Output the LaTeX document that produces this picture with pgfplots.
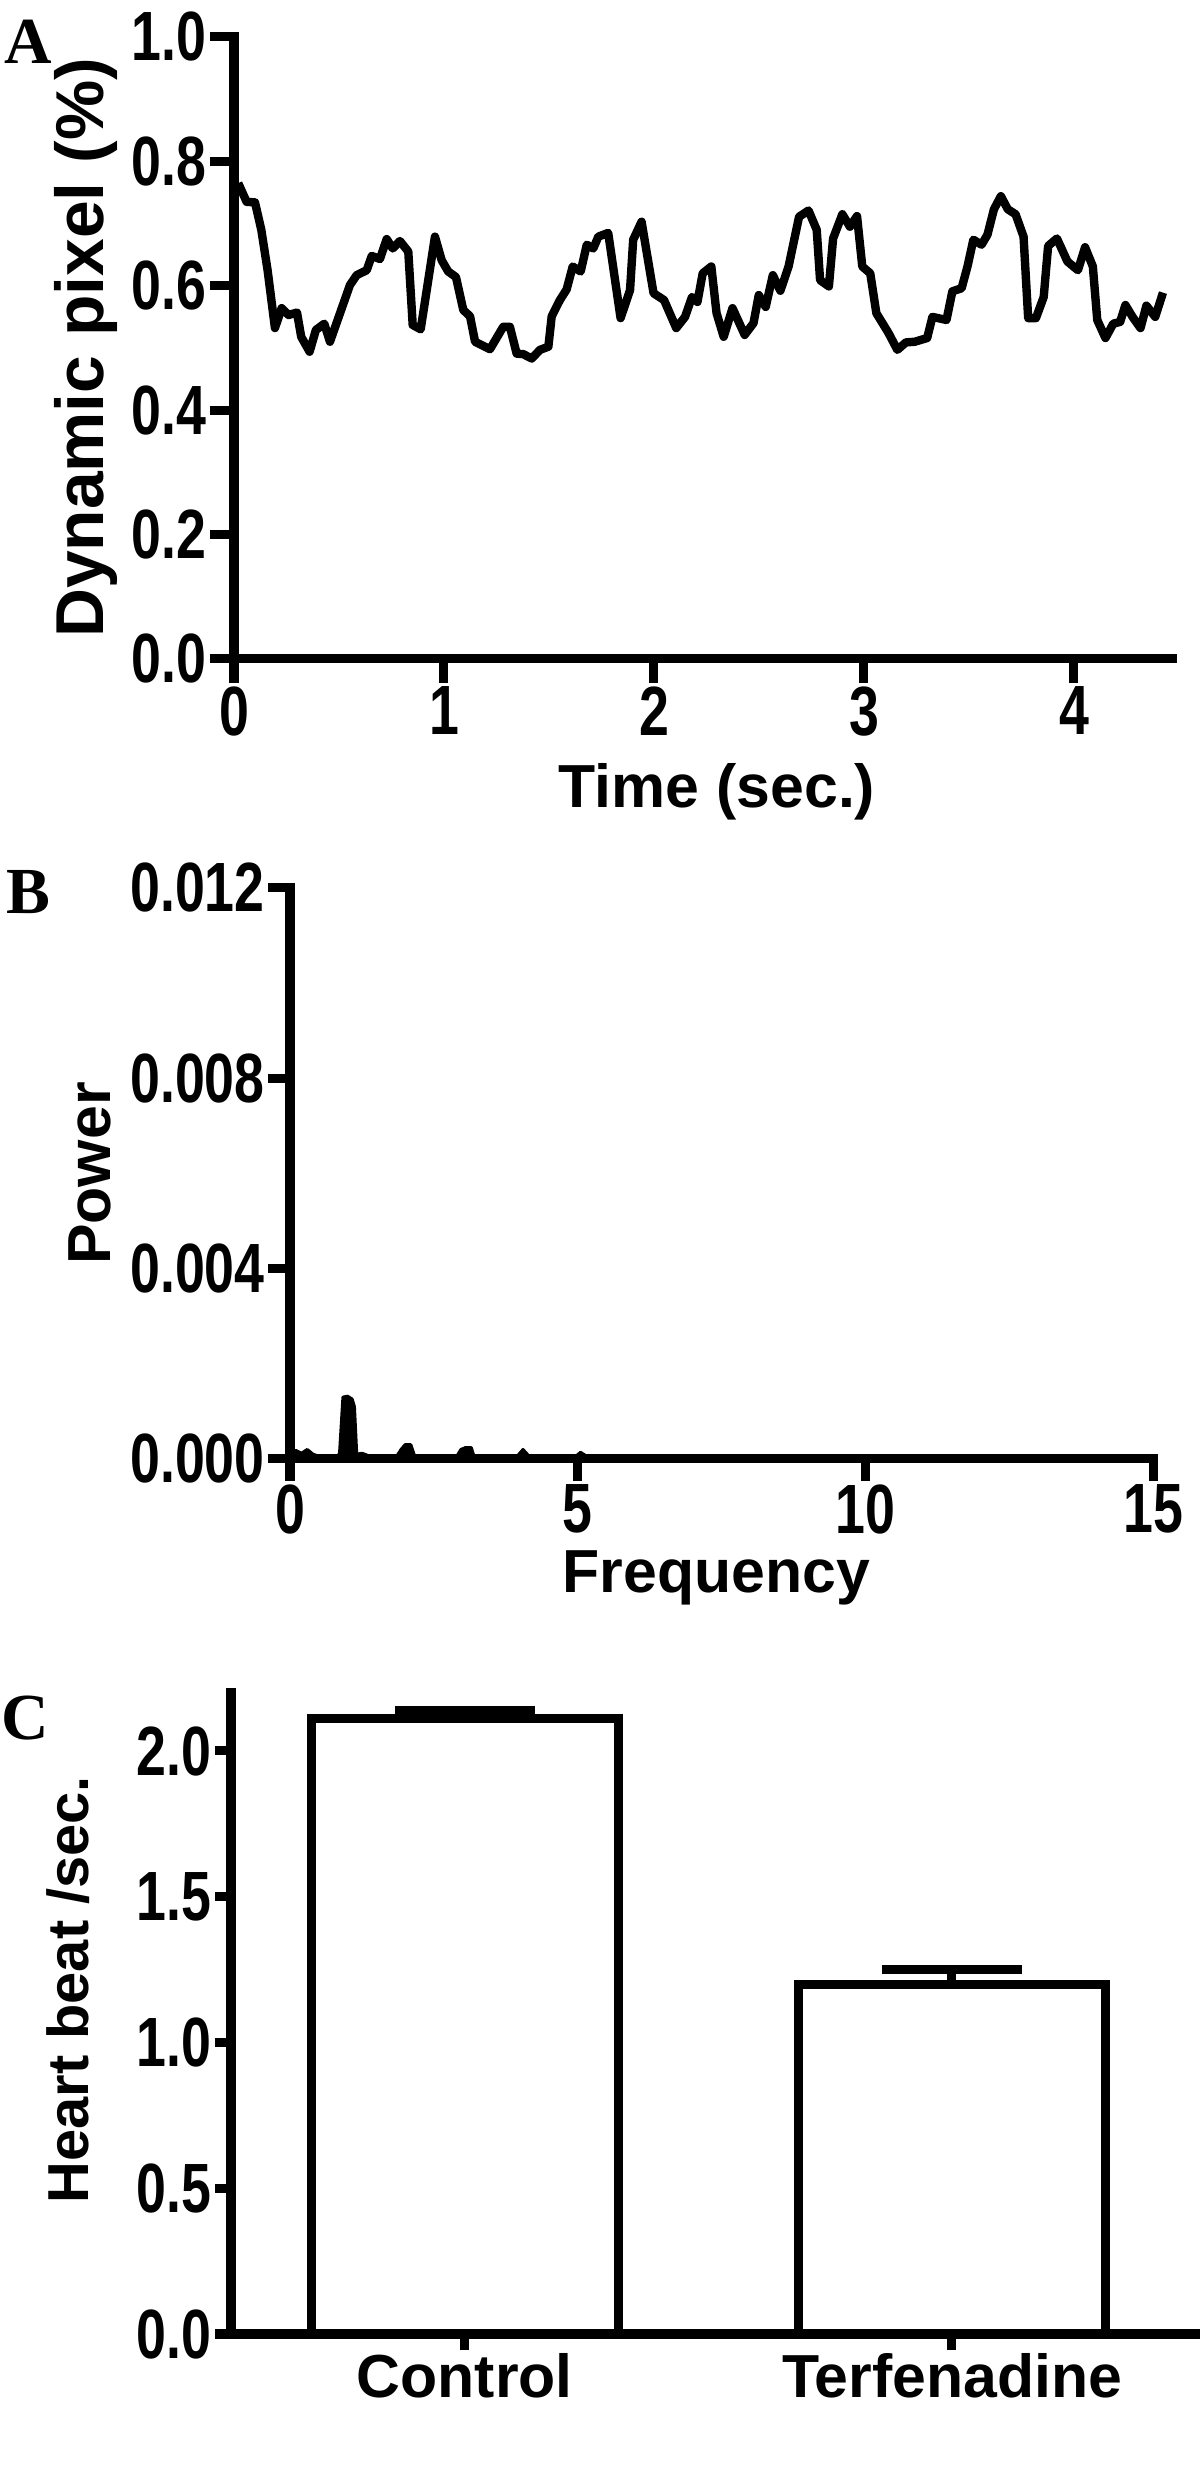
\documentclass[border=0pt]{standalone}
\usepackage{fontspec}
\setmainfont{Liberation Sans}
\newfontfamily\tickfont{Liberation Sans}[FakeStretch=0.77]
\newfontfamily\panelfont{Liberation Serif}
\usepackage{pgfplots}
\pgfplotsset{compat=1.18}

% GraphPad-like look: open left/bottom axes, thick lines, outside ticks
\pgfplotsset{
  gp/.style={
    scale only axis,
    axis lines=left,
    axis line style={-, line width=4.5bp, line cap=rect},
    tick align=outside,
    major tick length=12bp,
    minor tick num=0,
    tick style={black, line width=4.5bp},
    tick label style={font=\tickfont\bfseries\fontsize{35}{35}\selectfont, inner sep=1.5bp},
    label style={font=\bfseries\fontsize{30.5}{30.5}\selectfont},
    /pgf/number format/assume math mode=true,
    clip=false,
  }
}

\begin{document}
\begin{tikzpicture}
\useasboundingbox (0,0) rectangle (600bp,1233bp);

% ---------- A ----------
\begin{axis}[gp,
  at={(117bp,903.5bp)}, anchor=south west,
  width=469bp, height=311bp,
  xmin=0, xmax=4.467, ymin=0, ymax=1,
  xtick={0,1,2,3,4},
  ytick={0,0.2,0.4,0.6,0.8,1.0},
  yticklabel style={/pgf/number format/.cd, fixed, fixed zerofill, precision=1},
  xlabel={Time (sec.)},
  ylabel={Dynamic pixel (\%)},
  xlabel style={at={(axis description cs:0.515,-0.238)}, anchor=base},
  ylabel style={at={(axis description cs:-0.158,0.5)}, anchor=center,
                font=\bfseries\fontsize{34}{34}\selectfont},
]
\addplot[black, line width=4.2bp, line join=round] coordinates {
(0.02,0.765)(0.06,0.735)(0.10,0.734)(0.13,0.69)(0.16,0.625)(0.195,0.532)
(0.227,0.564)(0.26,0.553)(0.30,0.557)(0.32,0.518)(0.36,0.494)(0.39,0.529)
(0.43,0.539)(0.457,0.51)(0.505,0.556)(0.552,0.601)(0.584,0.617)(0.632,0.625)
(0.656,0.648)(0.695,0.643)(0.727,0.675)(0.756,0.66)(0.79,0.672)(0.83,0.655)
(0.851,0.537)(0.889,0.53)(0.957,0.679)(0.989,0.641)(1.02,0.623)(1.057,0.614)
(1.092,0.561)(1.124,0.551)(1.148,0.51)(1.219,0.498)(1.282,0.534)(1.314,0.534)
(1.346,0.491)(1.378,0.49)(1.418,0.483)(1.457,0.497)(1.497,0.502)(1.513,0.551)
(1.552,0.577)(1.584,0.594)(1.613,0.631)(1.651,0.623)(1.68,0.666)(1.711,0.66)
(1.735,0.679)(1.782,0.685)(1.841,0.548)(1.886,0.593)(1.901,0.674)(1.941,0.703)
(1.998,0.588)(2.048,0.577)(2.106,0.532)(2.148,0.550)(2.181,0.582)(2.207,0.574)
(2.232,0.620)(2.273,0.631)(2.298,0.556)(2.332,0.518)(2.374,0.564)(2.432,0.521)
(2.474,0.540)(2.499,0.585)(2.532,0.566)(2.566,0.617)(2.602,0.592)(2.641,0.631)
(2.691,0.711)(2.736,0.721)(2.775,0.690)(2.791,0.609)(2.833,0.599)(2.853,0.676)
(2.897,0.715)(2.933,0.695)(2.967,0.712)(2.992,0.631)(3.03,0.620)(3.059,0.556)
(3.117,0.524)(3.159,0.497)(3.2,0.509)(3.242,0.510)(3.301,0.516)(3.326,0.550)
(3.393,0.545)(3.421,0.591)(3.465,0.596)(3.493,0.631)(3.521,0.674)(3.56,0.666)
(3.588,0.682)(3.619,0.723)(3.652,0.744)(3.685,0.723)(3.722,0.715)(3.76,0.679)
(3.782,0.548)(3.819,0.548)(3.856,0.582)(3.877,0.664)(3.919,0.676)(3.969,0.639)
(4.019,0.625)(4.053,0.662)(4.09,0.631)(4.111,0.545)(4.15,0.516)(4.187,0.539)
(4.22,0.542)(4.245,0.569)(4.279,0.550)(4.317,0.532)(4.345,0.568)(4.387,0.550)
(4.424,0.589)
};
\end{axis}

% ---------- B ----------
\begin{axis}[gp,
  at={(145bp,503.5bp)}, anchor=south west,
  width=431.5bp, height=285.5bp,
  major tick length=11bp,
  xmin=0, xmax=15, ymin=0, ymax=0.012,
  xtick={0,5,10,15},
  ytick={0,0.004,0.008,0.012},
  scaled y ticks=false,
  yticklabel style={/pgf/number format/.cd, fixed, fixed zerofill, precision=3},
  xlabel={Frequency},
  ylabel={Power},
  xlabel style={at={(axis description cs:0.494,-0.233)}, anchor=base},
  ylabel style={at={(axis description cs:-0.232,0.5)}, anchor=center},
]
\addplot[black, fill=black, line width=1.5bp, line join=round] coordinates {
(0,0.00012)(0.1,0.00018)(0.2,0.00012)(0.3,0.0002)(0.4,0.0001)(0.5,0.00006)
(0.8,0.00006)(0.86,0.0001)(0.92,0.0013)(1.0,0.00132)(1.08,0.00126)(1.12,0.0011)
(1.16,0.0001)(1.25,0.00012)(1.3,0.0001)(1.4,0.00005)(1.85,0.00005)(1.93,0.0002)
(2.0,0.0003)(2.1,0.0003)(2.17,0.00005)(2.9,0.00006)(2.97,0.0002)(3.05,0.00024)
(3.15,0.00024)(3.2,0.00005)(3.5,0.00006)(3.6,0.00003)(3.95,0.00006)(4.05,0.0002)
(4.17,0.00004)(4.95,0.00004)(5.05,0.00014)(5.18,0.00004)(6.0,0.00002)(6.1,0.00006)
(6.2,0.00001)(15,0)
} \closedcycle;
\end{axis}

% ---------- C ----------
\begin{axis}[gp,
  at={(115.5bp,66bp)}, anchor=south west,
  width=483.5bp, height=320.65bp,
  major tick length=8bp,
  xmin=-0.48, xmax=1.505, ymin=0, ymax=2.2,
  ybar, bar width=0.63,
  xtick={0,1}, xticklabels={Control,Terfenadine},
  xticklabel style={font=\bfseries\fontsize{30.5}{30.5}\selectfont},
  ytick={0,0.5,1.0,1.5,2.0},
  yticklabel style={/pgf/number format/.cd, fixed, fixed zerofill, precision=1},
  ylabel={Heart beat /sec.},
  ylabel style={at={(axis description cs:-0.168,0.537)}, anchor=center,
                font=\bfseries\fontsize{29}{29}\selectfont},
]
\addplot[draw=black, fill=white, line width=4.5bp,
  error bars/.cd, y dir=plus, y explicit,
  error bar style={line width=4.5bp, black},
  error mark options={line width=4.5bp, mark size=35bp, rotate=90, black}]
coordinates {
(0,2.11) +- (0,0.03)
(1,1.20) +- (0,0.05)
};
\end{axis}

% panel letters
\node[font=\panelfont\bfseries\fontsize{33}{33}\selectfont] at (14bp,1212bp) {A};
\node[font=\panelfont\bfseries\fontsize{33}{33}\selectfont] at (14bp,787bp) {B};
\node[font=\panelfont\bfseries\fontsize{33}{33}\selectfont] at (12.5bp,374bp) {C};
\end{tikzpicture}
\end{document}
